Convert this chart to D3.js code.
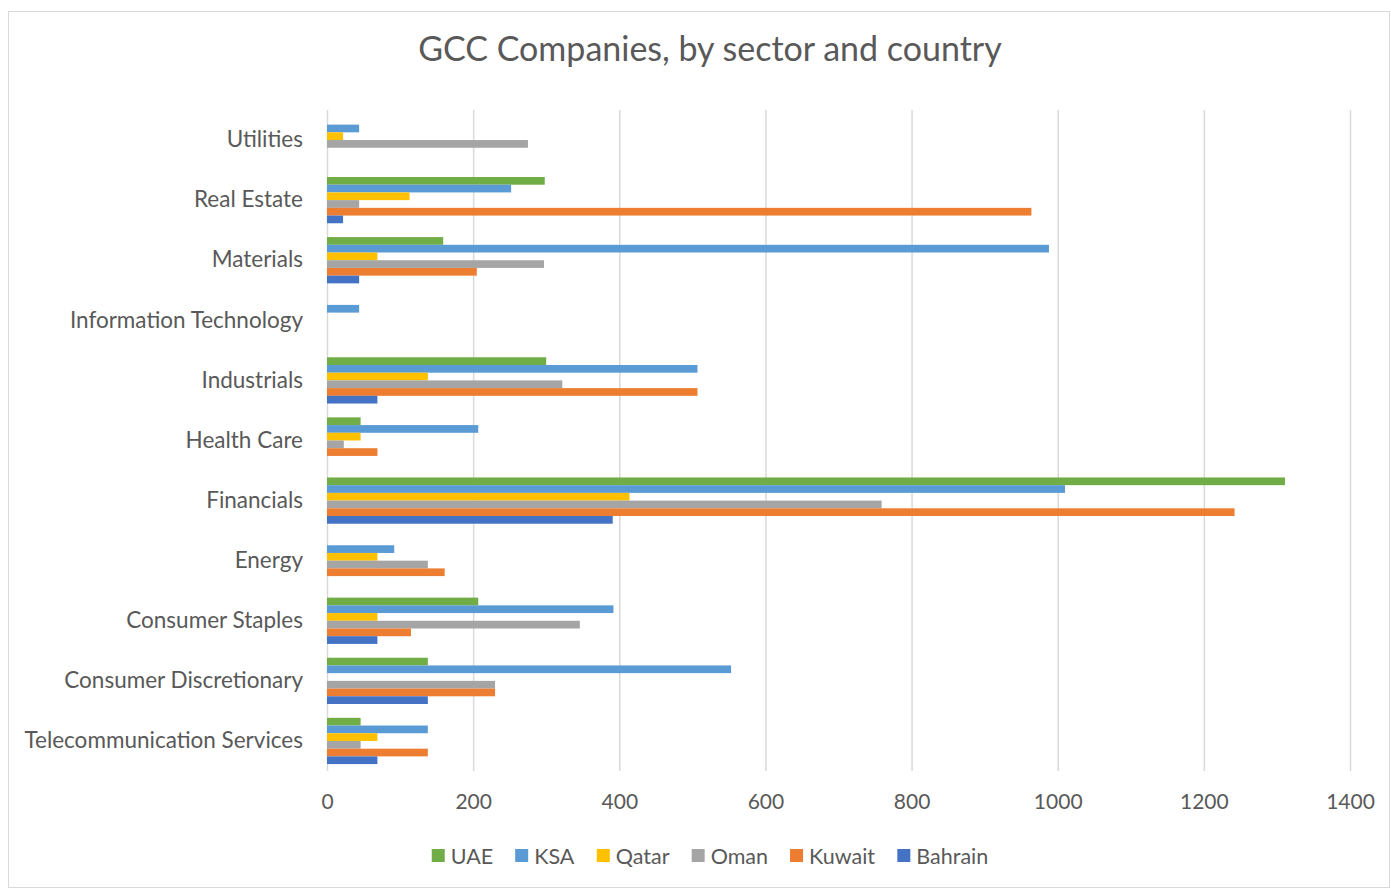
<!DOCTYPE html>
<html>
<head>
<meta charset="utf-8">
<script src="https://cdn.jsdelivr.net/npm/d3@7"></script>
<style>
  html, body { margin: 0; padding: 0; background: #fff; }
  svg { display: block; font-family: Lato, "Open Sans", sans-serif; }
</style>
</head>
<body>
<svg id="chart" width="1391" height="888"></svg>
<script>
// Sectors, listed bottom to top as they appear on the vertical axis
const sectors = [
  "Telecommunication Services",
  "Consumer Discretionary",
  "Consumer Staples",
  "Energy",
  "Financials",
  "Health Care",
  "Industrials",
  "Information Technology",
  "Materials",
  "Real Estate",
  "Utilities"
];

// Series, drawn top to bottom inside each sector group
const countries = ["UAE", "KSA", "Qatar", "Oman", "Kuwait", "Bahrain"];
const colors = ["#70AD47", "#5B9BD5", "#FFC000", "#A5A5A5", "#ED7D31", "#4472C4"];

// Values per country, in the same order as `sectors`
const uae     = [46, 138, 207, 0, 1311, 46, 300, 0, 159, 298, 0];
const ksa     = [138, 553, 392, 92, 1010, 207, 507, 44, 988, 252, 44];
const qatar   = [69, 0, 69, 69, 414, 46, 138, 0, 69, 113, 22];
const oman    = [46, 230, 346, 138, 759, 23, 322, 0, 297, 44, 275];
const kuwait  = [138, 230, 115, 161, 1242, 69, 507, 0, 205, 964, 0];
const bahrain = [69, 138, 69, 0, 391, 0, 69, 0, 44, 22, 0];

const xTicks = [0, 200, 400, 600, 800, 1000, 1200, 1400];

const seriesValues = [uae, ksa, qatar, oman, kuwait, bahrain];

const svg = d3.select("#chart");
const W = 1391, H = 888;
const textColor = "#595959";
const gridColor = "#D9D9D9";

// Chart frame
svg.append("rect")
  .attr("x", 8.5).attr("y", 11.5)
  .attr("width", W - 10).attr("height", H - 12)
  .attr("fill", "#fff").attr("stroke", gridColor).attr("stroke-width", 1);

const plot = { left: 327, right: 1350, top: 110, bottom: 771 };

const x = d3.scaleLinear().domain([0, 1400]).range([plot.left, plot.right]);

// Band scale: first sector at the bottom
const y = d3.scaleBand()
  .domain(sectors.slice().reverse())
  .range([plot.top, plot.bottom])
  .paddingInner(0.23)
  .paddingOuter(0.115);

const yInner = d3.scaleBand()
  .domain(countries)
  .range([0, y.bandwidth()]);

// Title
svg.append("text")
  .attr("x", 710).attr("y", 61)
  .attr("text-anchor", "middle")
  .attr("fill", textColor)
  .style("font-size", "34px")
  .text("GCC Companies, by sector and country");

// Vertical gridlines + tick labels
const xAxis = d3.axisBottom(x)
  .tickValues(xTicks)
  .tickSize(-(plot.bottom - plot.top))
  .tickPadding(23)
  .tickFormat(d3.format("d"));

const gx = svg.append("g")
  .attr("transform", `translate(0,${plot.bottom})`)
  .call(xAxis);
gx.select(".domain").remove();
gx.selectAll(".tick line").attr("stroke", gridColor).attr("stroke-width", 1.5);
gx.selectAll(".tick text")
  .attr("fill", textColor)
  .attr("dy", "0.71em")
  .style("font-size", "21px")
  .style("font-family", "Lato, sans-serif");

// Bars
const groups = svg.append("g").selectAll("g.sector")
  .data(sectors)
  .join("g")
  .attr("class", "sector")
  .attr("transform", d => `translate(0,${y(d)})`);

groups.selectAll("rect")
  .data((s, i) => countries.map((c, k) => ({ country: c, value: seriesValues[k][i], color: colors[k] })))
  .join("rect")
  .attr("x", x(0))
  .attr("y", d => yInner(d.country))
  .attr("width", d => x(d.value) - x(0))
  .attr("height", yInner.bandwidth())
  .attr("fill", d => d.color);

// Category axis
const yAxis = d3.axisLeft(y).tickSize(0).tickPadding(24);
const gy = svg.append("g")
  .attr("transform", `translate(${plot.left},0)`)
  .call(yAxis);
gy.select(".domain").remove();
gy.selectAll(".tick text")
  .attr("fill", textColor)
  .style("font-size", "22.5px")
  .style("font-family", "Lato, sans-serif");

// Legend
const legend = svg.append("g").attr("transform", "translate(0,856)");
const items = legend.selectAll("g.item")
  .data(countries)
  .join("g")
  .attr("class", "item");
items.append("rect")
  .attr("width", 13).attr("height", 13)
  .attr("y", -7)
  .attr("fill", (d, i) => colors[i]);
items.append("text")
  .attr("x", 19)
  .attr("dy", "0.35em")
  .attr("fill", textColor)
  .style("font-size", "21.5px")
  .text(d => d);

let offset = 0;
const positions = [];
items.each(function () {
  const w = this.getBBox().width;
  positions.push(offset);
  offset += w + 22;
});
const total = offset - 22;
const start = 710 - total / 2;
items.attr("transform", (d, i) => `translate(${start + positions[i]},0)`);
</script>
</body>
</html>
